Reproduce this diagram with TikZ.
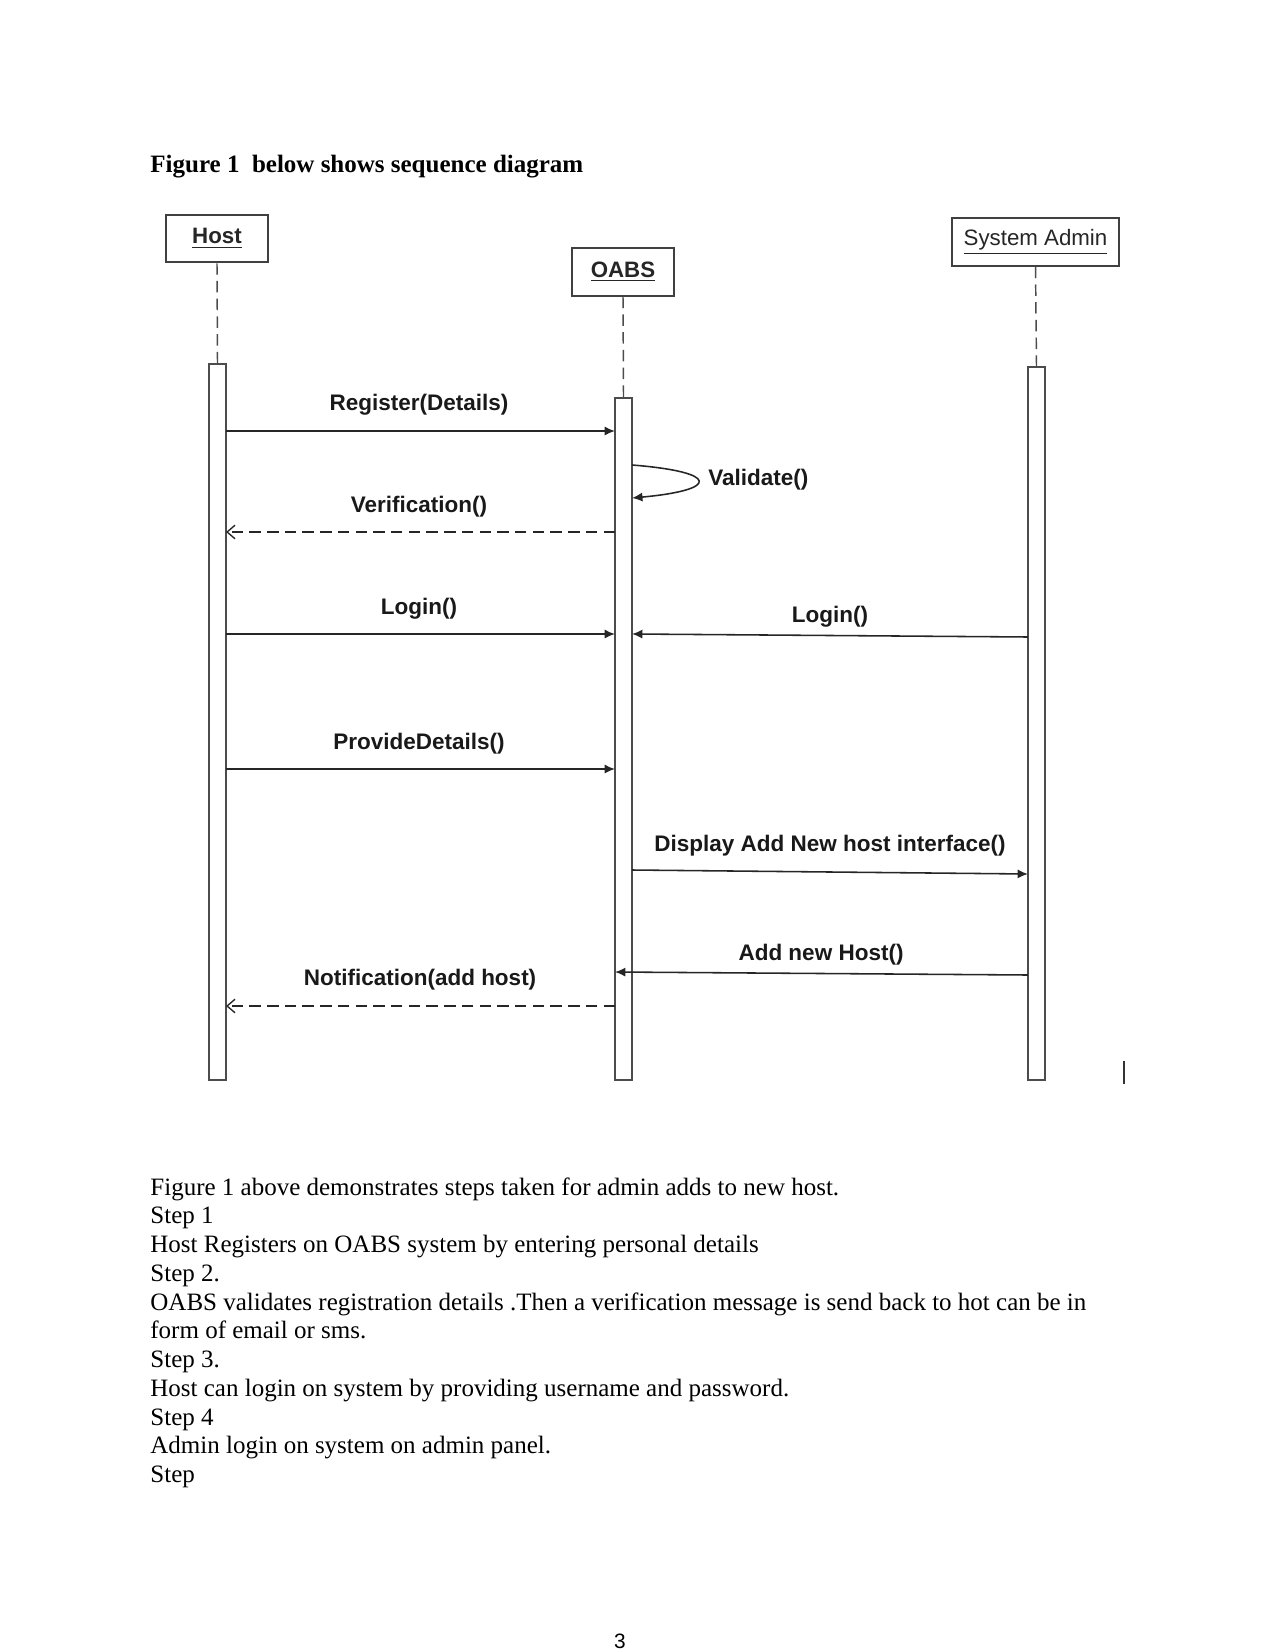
\documentclass[tikz,border=0pt]{standalone}
\usepackage{fontspec}
\setmainfont{Liberation Serif}
\newfontfamily\arialf{Liberation Sans}
\usetikzlibrary{arrows.meta}
\begin{document}
\begin{tikzpicture}[x=0.48pt,y=-0.48pt,
  lbl/.style={font=\arialf\bfseries\fontsize{10.8}{12}\selectfont, text=black!90, inner sep=0pt},
  headbox/.style={draw=black!75, line width=1pt, minimum width=#1, minimum height=22.8pt, inner sep=0pt, font=\arialf\fontsize{10.7}{12}\selectfont, text=black!85},
  bar/.style={draw=black!70, line width=0.9pt, minimum width=8.2pt, inner sep=0pt, outer sep=0pt, fill=white},
  life/.style={draw=black!70, line width=0.7pt, dash pattern=on 5.5pt off 3pt},
  msg/.style={draw=black!85, line width=0.75pt, -{Latex[length=5pt,width=4.4pt]}},
  ret/.style={draw=black!85, line width=0.65pt, dash pattern=on 5.5pt off 3pt, -{Straight Barb[length=3.8pt,width=6.5pt]}},
  body/.style={anchor=base west, inner sep=0pt, font=\fontsize{12}{13.8}\selectfont}
]
\useasboundingbox (0,0) rectangle (1275,1650);
\fill[white] (0,0) rectangle (1275,1650);

% header
\node[body, font=\bfseries\fontsize{12}{13.8}\selectfont] (title) at (150,173) {Figure 1\ \ below shows sequence diagram};

% participants
\node[headbox=49pt] (host) at (217,238.5) {\bfseries\underline{Host}};
\node[headbox=49pt] (oabs) at (623,272) {\bfseries\underline{OABS}};
\node[headbox=80.2pt] (adm) at (1035.5,242) {\underline{System Admin}};

% activation bars
\node[bar, minimum height=343.7pt] (hb) at (217.5,722) {};
\node[bar, minimum height=327.4pt] (ob) at (623.5,739) {};
\node[bar, minimum height=342.2pt] (ab) at (1036.5,723.5) {};

% lifelines
\draw[life] (host.south) -- (hb.north);
\draw[life] (oabs.south) -- (ob.north);
\draw[life] (adm.south) -- (ab.north);

% messages
\draw[msg] (hb.east |- 0,431) -- (ob.west |- 0,431);
\node[lbl] (l1) at (419,405) {Register(Details)};

\draw[msg] (ob.east |- 0,465) .. controls (720,472) and (720,490) .. (ob.east |- 0,498);
\node[lbl, anchor=west] (l2) at (708,480) {Validate()};

\draw[ret] (ob.west |- 0,532) -- (hb.east |- 0,532);
\node[lbl] (l3) at (419,507) {Verification()};

\draw[msg] (hb.east |- 0,634) -- (ob.west |- 0,634);
\node[lbl] (l4) at (419,609) {Login()};

\draw[msg] (ab.west |- 0,637) -- (ob.east |- 0,634);
\node[lbl] (l5) at (830,617) {Login()};

\draw[msg] (hb.east |- 0,769) -- (ob.west |- 0,769);
\node[lbl] (l6) at (419,744) {ProvideDetails()};

\draw[msg] (ob.east |- 0,870) -- (ab.west |- 0,874);
\node[lbl] (l7) at (830,846) {Display Add New host interface()};

\draw[msg] (ab.west |- 0,975) -- (ob.west |- 0,972);
\node[lbl] (l8) at (821,955) {Add new Host()};

\draw[ret] (ob.west |- 0,1006) -- (hb.east |- 0,1006);
\node[lbl] (l9) at (420,980) {Notification(add host)};

% stray cursor mark
\draw[black!80, line width=0.5pt] (1124,1061) -- (1124,1084);

% body text
\node[body] (t1) at (150,1195) {Figure 1 above demonstrates steps taken for admin adds to new host.};
\node[body] (t2) at (150,1223.7) {Step 1};
\node[body] (t3) at (150,1252.5) {Host Registers on OABS system by entering personal details};
\node[body] (t4) at (150,1281.2) {Step 2.};
\node[body] (t5) at (150,1310) {OABS validates registration details .Then a verification message is send back to hot can be in};
\node[body] (t6) at (150,1338.7) {form of email or sms.};
\node[body] (t7) at (150,1367.5) {Step 3.};
\node[body] (t8) at (150,1396.2) {Host can login on system by providing username and password.};
\node[body] (t9) at (150,1425) {Step 4};
\node[body] (t10) at (150,1453.7) {Admin login on system on admin panel.};
\node[body] (t11) at (150,1482.5) {Step};

% page number
\node[anchor=base, inner sep=0pt, font=\arialf\fontsize{10}{12}\selectfont] (pg) at (620,1648) {3};
\end{tikzpicture}
\end{document}
